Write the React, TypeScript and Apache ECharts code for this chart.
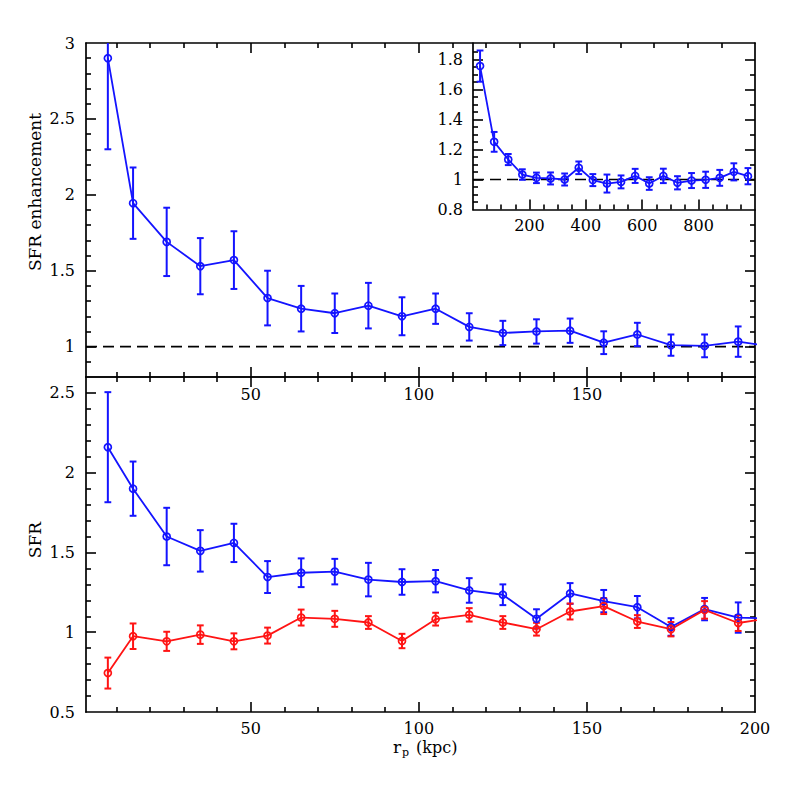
import React, { useEffect, useRef } from "react";
import * as echarts from "echarts";

// ---------- data ----------
const rp = [7.5, 15, 25, 35, 45, 55, 65, 75, 85, 95, 105, 115, 125, 135, 145, 155, 165, 175, 185, 195, 205];
const enhancement = [2.9, 1.945, 1.69, 1.53, 1.57, 1.32, 1.25, 1.22, 1.27, 1.2, 1.25, 1.13, 1.09, 1.1, 1.105, 1.026, 1.08, 1.01, 1.005, 1.033, 1.0];
const enhancementErr = [0.6, 0.235, 0.225, 0.185, 0.19, 0.18, 0.15, 0.13, 0.15, 0.125, 0.1, 0.09, 0.08, 0.08, 0.08, 0.075, 0.077, 0.07, 0.075, 0.1, 0.1];

const sfrPairs = [2.16, 1.9, 1.6, 1.51, 1.56, 1.346, 1.373, 1.38, 1.33, 1.315, 1.32, 1.262, 1.235, 1.084, 1.243, 1.195, 1.157, 1.033, 1.145, 1.092, 1.085];
const sfrPairsErr = [0.345, 0.17, 0.18, 0.13, 0.12, 0.1, 0.09, 0.08, 0.105, 0.08, 0.07, 0.077, 0.065, 0.06, 0.065, 0.07, 0.07, 0.055, 0.07, 0.095, 0.09];
const sfrControl = [0.744, 0.975, 0.943, 0.985, 0.943, 0.979, 1.092, 1.084, 1.061, 0.945, 1.082, 1.109, 1.061, 1.019, 1.13, 1.164, 1.067, 1.019, 1.14, 1.058, 1.09];
const sfrControlErr = [0.097, 0.08, 0.06, 0.058, 0.05, 0.05, 0.05, 0.05, 0.04, 0.045, 0.04, 0.042, 0.04, 0.04, 0.05, 0.05, 0.04, 0.045, 0.055, 0.05, 0.05];

const rpWide = [25, 75, 125, 175, 225, 275, 325, 375, 425, 475, 525, 575, 625, 675, 725, 775, 825, 875, 925, 975];
const enhancementWide = [1.756, 1.251, 1.133, 1.033, 1.011, 1.007, 1.0, 1.078, 0.996, 0.973, 0.984, 1.024, 0.973, 1.024, 0.978, 0.993, 0.998, 1.011, 1.051, 1.022];
const enhancementWideErr = [0.104, 0.066, 0.037, 0.035, 0.035, 0.04, 0.04, 0.042, 0.04, 0.06, 0.043, 0.047, 0.042, 0.048, 0.044, 0.05, 0.054, 0.053, 0.057, 0.054];

// tick values / labels
const xMajorTicks = [50, 100, 150];
const xMinorTicks = [10, 20, 30, 40, 60, 70, 80, 90, 110, 120, 130, 140, 160, 170, 180, 190];
const xLabelsTop = [50, 100, 150];
const xLabelsBottom = [50, 100, 150, 200];
const yTopMajor = [1, 1.5, 2, 2.5];
const yTopMinor = [0.9, 1.1, 1.2, 1.3, 1.4, 1.6, 1.7, 1.8, 1.9, 2.1, 2.2, 2.3, 2.4, 2.6, 2.7, 2.8, 2.9];
const yTopLabels = [1, 1.5, 2, 2.5, 3];
const yTopRightMajor = [1, 1.5];
const yTopRightMinor = [0.9, 1.1, 1.2, 1.3, 1.4, 1.6, 1.7, 1.8];
const yBotMajor = [1, 1.5, 2, 2.5];
const yBotMinor = [0.6, 0.7, 0.8, 0.9, 1.1, 1.2, 1.3, 1.4, 1.6, 1.7, 1.8, 1.9, 2.1, 2.2, 2.3, 2.4];
const yBotLabels = [0.5, 1, 1.5, 2, 2.5];
const insetXMajor = [200, 400, 600, 800];
const insetXMinor = [50, 100, 150, 250, 300, 350, 450, 500, 550, 650, 700, 750, 850, 900, 950];
const insetXLabels = [200, 400, 600, 800];
const insetYMajor = [1, 1.2, 1.4, 1.6, 1.8];
const insetYLeftMinor = [0.85, 0.9, 0.95, 1.05, 1.1, 1.15, 1.25, 1.3, 1.35, 1.45, 1.5, 1.55, 1.65, 1.7, 1.75, 1.85];
const insetYRightMinor = [0.9, 1.1, 1.3, 1.5, 1.7];
const insetYLabels = [0.8, 1, 1.2, 1.4, 1.6, 1.8];

const BLUE = "#1414ff";
const RED = "#ff1414";
const FONT = "DejaVu Serif";
const MAJ = 10;
const MIN = 5;

function mkAxis(
  grid: number,
  position: string,
  min: number,
  max: number,
  ticks: number[],
  tickLen: number,
  labels: number[],
  showLine: boolean,
  margin = 9
) {
  return {
    type: "value",
    gridIndex: grid,
    position,
    min,
    max,
    axisLine: { show: showLine, onZero: false, lineStyle: { color: "#000", width: 1.7 } },
    axisTick: {
      show: ticks.length > 0,
      inside: true,
      length: tickLen,
      customValues: ticks.length > 0 ? ticks : undefined,
      lineStyle: { color: "#000", width: 1.6 },
    },
    axisLabel: {
      show: labels.length > 0,
      customValues: labels.length > 0 ? labels : undefined,
      margin,
      fontFamily: FONT,
      fontSize: 16,
      color: "#000",
      formatter: (v: number) => String(v),
    },
    splitLine: { show: false },
    minorTick: { show: false },
    splitArea: { show: false },
  };
}

function errRender(color: string) {
  return (params: any, api: any) => {
    const x = api.value(0);
    const lo = api.value(1);
    const hi = api.value(2);
    const a = api.coord([x, lo]);
    const b = api.coord([x, hi]);
    const cs = params.coordSys;
    const px = a[0];
    if (px < cs.x - 1 || px > cs.x + cs.width + 1) return null;
    const yTop = cs.y;
    const yBot = cs.y + cs.height;
    const y1 = Math.max(b[1], yTop);
    const y2 = Math.min(a[1], yBot);
    const st = { stroke: color, lineWidth: 2 };
    const cap = 3.4;
    const children: any[] = [{ type: "line", shape: { x1: px, y1, x2: px, y2 }, style: st }];
    if (b[1] >= yTop) children.push({ type: "line", shape: { x1: px - cap, y1: b[1], x2: px + cap, y2: b[1] }, style: st });
    if (a[1] <= yBot) children.push({ type: "line", shape: { x1: px - cap, y1: a[1], x2: px + cap, y2: a[1] }, style: st });
    return { type: "group", children };
  };
}

function errSeries(xs: number[], vs: number[], es: number[], color: string, xi: number, yi: number) {
  return {
    type: "custom",
    xAxisIndex: xi,
    yAxisIndex: yi,
    renderItem: errRender(color),
    data: xs.map((x, i) => [x, vs[i] - es[i], vs[i] + es[i]]),
    z: 3,
    silent: true,
  };
}

function lineSeries(xs: number[], vs: number[], color: string, xi: number, yi: number) {
  return {
    type: "line",
    xAxisIndex: xi,
    yAxisIndex: yi,
    data: xs.map((x, i) => [x, vs[i]]),
    symbol: "circle",
    symbolSize: 7,
    showSymbol: true,
    clip: true,
    lineStyle: { color, width: 1.8 },
    itemStyle: { color: "rgba(0,0,0,0)", borderColor: color, borderWidth: 1.7 },
    z: 4,
    silent: true,
  };
}

function dashSeries(x0: number, x1: number, xi: number, yi: number) {
  return {
    type: "line",
    xAxisIndex: xi,
    yAxisIndex: yi,
    data: [
      [x0, 1],
      [x1, 1],
    ],
    symbol: "none",
    lineStyle: { color: "#000", width: 1.6, type: [11, 6] },
    z: 2,
    silent: true,
  };
}

export default function App() {
  const ref = useRef<HTMLDivElement>(null);
  useEffect(() => {
    if (!ref.current) return;
    const chart = echarts.init(ref.current, undefined, { renderer: "svg" });
    const xAxis = [
      // top panel (grid 0): 0..3
      mkAxis(0, "bottom", 1, 200, xMajorTicks, MAJ, xLabelsTop, true, 9),
      mkAxis(0, "bottom", 1, 200, xMinorTicks, MIN, [], false),
      mkAxis(0, "top", 1, 200, xMajorTicks, MAJ, [], true),
      mkAxis(0, "top", 1, 200, xMinorTicks, MIN, [], false),
      // bottom panel (grid 1): 4..7
      mkAxis(1, "bottom", 1, 200, xMajorTicks, MAJ, xLabelsBottom, true, 8),
      mkAxis(1, "bottom", 1, 200, xMinorTicks, MIN, [], false),
      mkAxis(1, "top", 1, 200, xMajorTicks, MAJ, [], true),
      mkAxis(1, "top", 1, 200, xMinorTicks, MIN, [], false),
      // inset (grid 2): 8..9
      mkAxis(2, "bottom", 0, 1000, insetXMajor, MAJ, insetXLabels, true, 8),
      mkAxis(2, "bottom", 0, 1000, insetXMinor, MIN, [], false),
    ];
    const yAxis = [
      // top panel: 0..3
      mkAxis(0, "left", 0.8, 3, yTopMajor, MAJ, yTopLabels, true, 11),
      mkAxis(0, "left", 0.8, 3, yTopMinor, MIN, [], false),
      mkAxis(0, "right", 0.8, 3, yTopRightMajor, MAJ, [], true),
      mkAxis(0, "right", 0.8, 3, yTopRightMinor, MIN, [], false),
      // bottom panel: 4..7
      mkAxis(1, "left", 0.5, 2.6, yBotMajor, MAJ, yBotLabels, true, 11),
      mkAxis(1, "left", 0.5, 2.6, yBotMinor, MIN, [], false),
      mkAxis(1, "right", 0.5, 2.6, yBotMajor, MAJ, [], true),
      mkAxis(1, "right", 0.5, 2.6, yBotMinor, MIN, [], false),
      // inset: 8..11
      mkAxis(2, "left", 0.8, 1.91, insetYMajor, MAJ, insetYLabels, true, 10),
      mkAxis(2, "left", 0.8, 1.91, insetYLeftMinor, MIN, [], false),
      mkAxis(2, "right", 0.8, 1.91, insetYMajor, MAJ, [], false),
      mkAxis(2, "right", 0.8, 1.91, insetYRightMinor, MIN, [], false),
    ];

    const option: any = {
      animation: false,
      backgroundColor: "#fff",
      grid: [
        { left: 86, top: 43, width: 669, height: 334, containLabel: false },
        { left: 86, top: 377, width: 669, height: 335, containLabel: false },
        { left: 473, top: 43, width: 282, height: 166.5, containLabel: false },
      ],
      xAxis,
      yAxis,
      series: [
        dashSeries(1, 200, 0, 0),
        errSeries(rp, enhancement, enhancementErr, BLUE, 0, 0),
        lineSeries(rp, enhancement, BLUE, 0, 0),
        errSeries(rp, sfrPairs, sfrPairsErr, BLUE, 4, 4),
        lineSeries(rp, sfrPairs, BLUE, 4, 4),
        errSeries(rp, sfrControl, sfrControlErr, RED, 4, 4),
        lineSeries(rp, sfrControl, RED, 4, 4),
        dashSeries(0, 1000, 8, 8),
        errSeries(rpWide, enhancementWide, enhancementWideErr, BLUE, 8, 8),
        lineSeries(rpWide, enhancementWide, BLUE, 8, 8),
      ],
      graphic: [
        {
          type: "text",
          x: 35,
          y: 192,
          rotation: Math.PI / 2,
          style: { text: "SFR enhancement", fontFamily: FONT, fontSize: 17, fill: "#000", align: "center", verticalAlign: "middle" },
        },
        {
          type: "text",
          x: 35,
          y: 540,
          rotation: Math.PI / 2,
          style: { text: "SFR", fontFamily: FONT, fontSize: 17, fill: "#000", align: "center", verticalAlign: "middle" },
        },
        {
          type: "text",
          x: 393,
          y: 747,
          style: { text: "r", fontFamily: FONT, fontSize: 17, fill: "#000", align: "left", verticalAlign: "middle" },
        },
        {
          type: "text",
          x: 402,
          y: 752,
          style: { text: "p", fontFamily: FONT, fontSize: 11, fill: "#000", align: "left", verticalAlign: "middle" },
        },
        {
          type: "text",
          x: 416,
          y: 747,
          style: { text: "(kpc)", fontFamily: FONT, fontSize: 16, fill: "#000", align: "left", verticalAlign: "middle" },
        },
      ],
    };
    chart.setOption(option);
    return () => chart.dispose();
  }, []);
  return <div ref={ref} style={{ position: "fixed", left: 0, top: 0, width: 797, height: 797 }} />;
}
